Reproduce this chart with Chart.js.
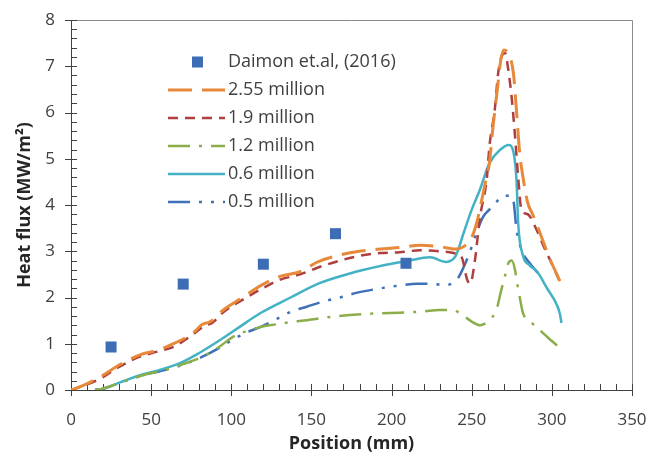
<!DOCTYPE html>
<html>
<head>
<meta charset="utf-8">
<script src="https://cdn.jsdelivr.net/npm/chart.js@4.4.1/dist/chart.umd.min.js"></script>
<style>
  html, body { margin: 0; padding: 0; background: #fff; }
  canvas { display: block; }
</style>
</head>
<body>
<canvas id="chart" width="651" height="454"></canvas>
<script>
// measured points
const daimonPos = [25, 70, 120, 165, 209];
const daimonFlux = [0.93, 2.29, 2.72, 3.38, 2.74];

// 2.55 million
const pos255 = [0, 5, 12, 20, 30, 43, 54, 62, 76, 82, 87, 95, 107, 117, 130, 143, 154, 168, 178, 193, 205, 218, 230, 240, 245, 250, 253, 255, 258, 261, 263, 266, 268, 270, 272.5, 276, 278, 280, 282, 285, 288, 292, 298, 305];
const flux255 = [0, 0.06, 0.17, 0.32, 0.54, 0.76, 0.86, 0.97, 1.23, 1.42, 1.48, 1.73, 2.0, 2.23, 2.45, 2.56, 2.77, 2.92, 2.99, 3.05, 3.08, 3.13, 3.1, 3.05, 3.1, 3.3, 3.6, 3.9, 4.4, 4.9, 5.6, 6.5, 7.1, 7.35, 7.3, 6.85, 6.0, 5.1, 4.6, 4.04, 3.8, 3.45, 2.9, 2.35];

// 1.9 million
const pos19 = [0, 10, 20, 30, 43, 55, 65, 76, 83, 88, 95, 107, 118, 130, 143, 155, 168, 180, 193, 205, 218, 230, 240, 244, 247, 249, 252, 255, 259.5, 261, 264.5, 266.5, 269, 271, 272.5, 275, 277, 279, 281, 285, 290, 295, 301, 305];
const flux19 = [0, 0.12, 0.28, 0.5, 0.72, 0.84, 0.95, 1.2, 1.38, 1.45, 1.68, 1.95, 2.17, 2.38, 2.5, 2.66, 2.8, 2.9, 2.96, 2.98, 3.02, 3.0, 2.95, 2.85, 2.4, 2.3, 2.8, 3.7, 4.6, 5.25, 6.1, 6.85, 7.24, 7.28, 7.0, 6.3, 5.5, 4.6, 3.9, 3.8, 3.5, 3.1, 2.65, 2.35];

// 1.2 million
const pos12 = [15, 20, 30, 45, 57, 70, 82, 92, 101, 110, 118, 128, 137, 147, 162, 174, 193, 205, 220, 230, 238, 245, 250, 255, 259, 263, 266, 268, 271, 273, 275, 277, 278, 280, 282, 286, 291, 298, 306];
const flux12 = [0, 0.03, 0.15, 0.32, 0.42, 0.56, 0.72, 0.92, 1.15, 1.28, 1.36, 1.42, 1.47, 1.51, 1.58, 1.62, 1.66, 1.67, 1.7, 1.73, 1.73, 1.6, 1.48, 1.4, 1.45, 1.58, 1.8, 2.1, 2.5, 2.75, 2.8, 2.6, 2.38, 2.0, 1.66, 1.5, 1.34, 1.12, 0.88];

// 0.6 million
const pos06 = [15, 20, 31, 43, 55, 68, 80, 93, 105, 118, 137, 155, 174, 193, 210, 224, 234, 240, 245, 250, 255, 261, 268, 273, 276, 278, 279, 282, 286, 291, 297, 303, 305, 306];
const flux06 = [0, 0.02, 0.17, 0.32, 0.43, 0.58, 0.8, 1.08, 1.36, 1.66, 2.0, 2.31, 2.52, 2.68, 2.79, 2.87, 2.77, 2.9, 3.4, 3.9, 4.32, 4.9, 5.2, 5.3, 5.15, 4.5, 3.6, 2.9, 2.7, 2.55, 2.2, 1.85, 1.65, 1.45];

// 0.5 million
const pos05 = [15, 20, 30, 45, 57, 70, 82, 92, 100, 110, 118, 128, 137, 147, 158, 168, 178, 190, 205, 216, 225, 232, 238, 242, 245, 249, 253, 257, 261, 265, 270, 274, 276, 278, 282, 286, 292];
const flux05 = [0, 0.03, 0.15, 0.32, 0.42, 0.55, 0.72, 0.9, 1.07, 1.25, 1.36, 1.53, 1.69, 1.8, 1.92, 2.0, 2.1, 2.18, 2.26, 2.3, 2.3, 2.27, 2.31, 2.45, 2.66, 3.0, 3.4, 3.74, 3.9, 4.05, 4.2, 4.2, 4.1, 3.46, 2.96, 2.75, 2.5];

const xMin = 0, xMax = 350, xStep = 50;
const yMin = 0, yMax = 8, yStep = 1;

const pairs = (xs, ys) => xs.map((x, i) => ({x: x, y: ys[i]}));

const FONT = "'Open Sans', sans-serif";

function curve(label, xs, ys, color, dash, width) {
  return {
    label: label,
    data: pairs(xs, ys),
    showLine: true,
    borderColor: color,
    backgroundColor: color,
    borderWidth: width,
    borderDash: dash,
    pointRadius: 0,
    cubicInterpolationMode: 'monotone',
    fill: false
  };
}

// axis lines, box and minor ticks
const frameLines = {
  id: 'frameLines',
  beforeDatasetsDraw(chart) {
    const {ctx, chartArea: a, scales} = chart;
    const x = scales.x, y = scales.y;
    ctx.save();
    ctx.lineWidth = 1;
    ctx.strokeStyle = '#8a8a8a';
    ctx.beginPath();
    ctx.moveTo(a.left, a.top + 0.5);
    ctx.lineTo(a.right + 0.5, a.top + 0.5);
    ctx.lineTo(a.right + 0.5, a.bottom);
    ctx.stroke();

    ctx.strokeStyle = '#404040';
    ctx.beginPath();
    ctx.moveTo(a.left + 0.5, a.top);
    ctx.lineTo(a.left + 0.5, a.bottom + 0.5);
    ctx.lineTo(a.right + 0.5, a.bottom + 0.5);
    for (let i = 0; i <= 35; i++) {
      const px = Math.round(x.getPixelForValue(i * 10)) + 0.5;
      ctx.moveTo(px, a.bottom - 6);
      ctx.lineTo(px, i % 5 === 0 ? a.bottom + 6 : a.bottom);
    }
    for (let i = 0; i <= 40; i++) {
      const py = Math.round(y.getPixelForValue(i * 0.2)) + 0.5;
      if (i % 5 === 0) {
        ctx.moveTo(a.left - 6, py);
        ctx.lineTo(a.left + 6, py);
      } else {
        ctx.moveTo(a.left, py);
        ctx.lineTo(a.left + 6, py);
      }
    }
    ctx.stroke();
    ctx.restore();
  }
};

// legend sitting inside the plot
const insideLegend = {
  id: 'insideLegend',
  afterDraw(chart) {
    const ctx = chart.ctx;
    const x0 = 168, x1 = 225, tx = 228, top = 62, step = 27.9;
    ctx.save();
    chart.data.datasets.forEach((ds, i) => {
      const cy = Math.round(top + i * step);
      if (ds.showLine) {
        ctx.strokeStyle = ds.borderColor;
        ctx.lineWidth = ds.borderWidth;
        ctx.setLineDash(ds.borderDash || []);
        ctx.beginPath();
        ctx.moveTo(x0, cy);
        ctx.lineTo(x1, cy);
        ctx.stroke();
        ctx.setLineDash([]);
      } else {
        ctx.fillStyle = ds.backgroundColor;
        ctx.fillRect(192, cy - 5.5, 11, 11);
      }
      ctx.fillStyle = '#404040';
      ctx.font = '18px ' + FONT;
      ctx.textBaseline = 'middle';
      ctx.textAlign = 'left';
      ctx.fillText(ds.label, tx, cy);
    });
    ctx.restore();
  }
};

new Chart(document.getElementById('chart'), {
  type: 'scatter',
  data: {
    datasets: [
      {
        label: 'Daimon et.al, (2016)',
        data: pairs(daimonPos, daimonFlux),
        showLine: false,
        pointStyle: 'rect',
        pointRadius: 7.8,
        borderWidth: 0,
        backgroundColor: '#3d6db5',
        borderColor: '#3d6db5'
      },
      curve('2.55 million', pos255, flux255, '#e8893a', [24, 10], 3),
      curve('1.9 million', pos19, flux19, '#ad3f3e', [10, 7], 2.5),
      curve('1.2 million', pos12, flux12, '#8cae4a', [22, 9, 3, 9], 2.5),
      curve('0.6 million', pos06, flux06, '#42b2c4', [], 2.5),
      curve('0.5 million', pos05, flux05, '#3f70b8', [22, 9, 3, 9, 3, 9], 2.5)
    ]
  },
  options: {
    responsive: false,
    animation: false,
    devicePixelRatio: 1,
    layout: { padding: { top: 20, right: 19, left: 0, bottom: 0 } },
    plugins: {
      legend: { display: false },
      tooltip: { enabled: false }
    },
    scales: {
      x: {
        type: 'linear',
        min: xMin,
        max: xMax,
        grid: { display: false, drawTicks: false },
        border: { display: false },
        ticks: { stepSize: xStep, padding: 20, color: '#404040', font: { family: FONT, size: 17 } },
        title: { display: true, text: 'Position (mm)', color: '#262626', padding: { top: 0, bottom: -1 }, font: { family: FONT, size: 18, weight: 'bold' } },
        afterFit(scale) {
          scale.height = 64;
          scale.paddingLeft = 0;
          scale.paddingRight = 0;
        }
      },
      y: {
        type: 'linear',
        min: yMin,
        max: yMax,
        grid: { display: false, drawTicks: false },
        border: { display: false },
        ticks: { stepSize: yStep, padding: 16, color: '#404040', font: { family: FONT, size: 17 } },
        title: { display: true, text: 'Heat flux (MW/m²)', color: '#262626', padding: { top: 14, bottom: 0 }, font: { family: FONT, size: 18, weight: 'bold' } },
        afterFit(scale) {
          scale.width = 71;
          scale.paddingTop = 0;
          scale.paddingBottom = 0;
        }
      }
    }
  },
  plugins: [frameLines, insideLegend]
});
</script>
</body>
</html>
